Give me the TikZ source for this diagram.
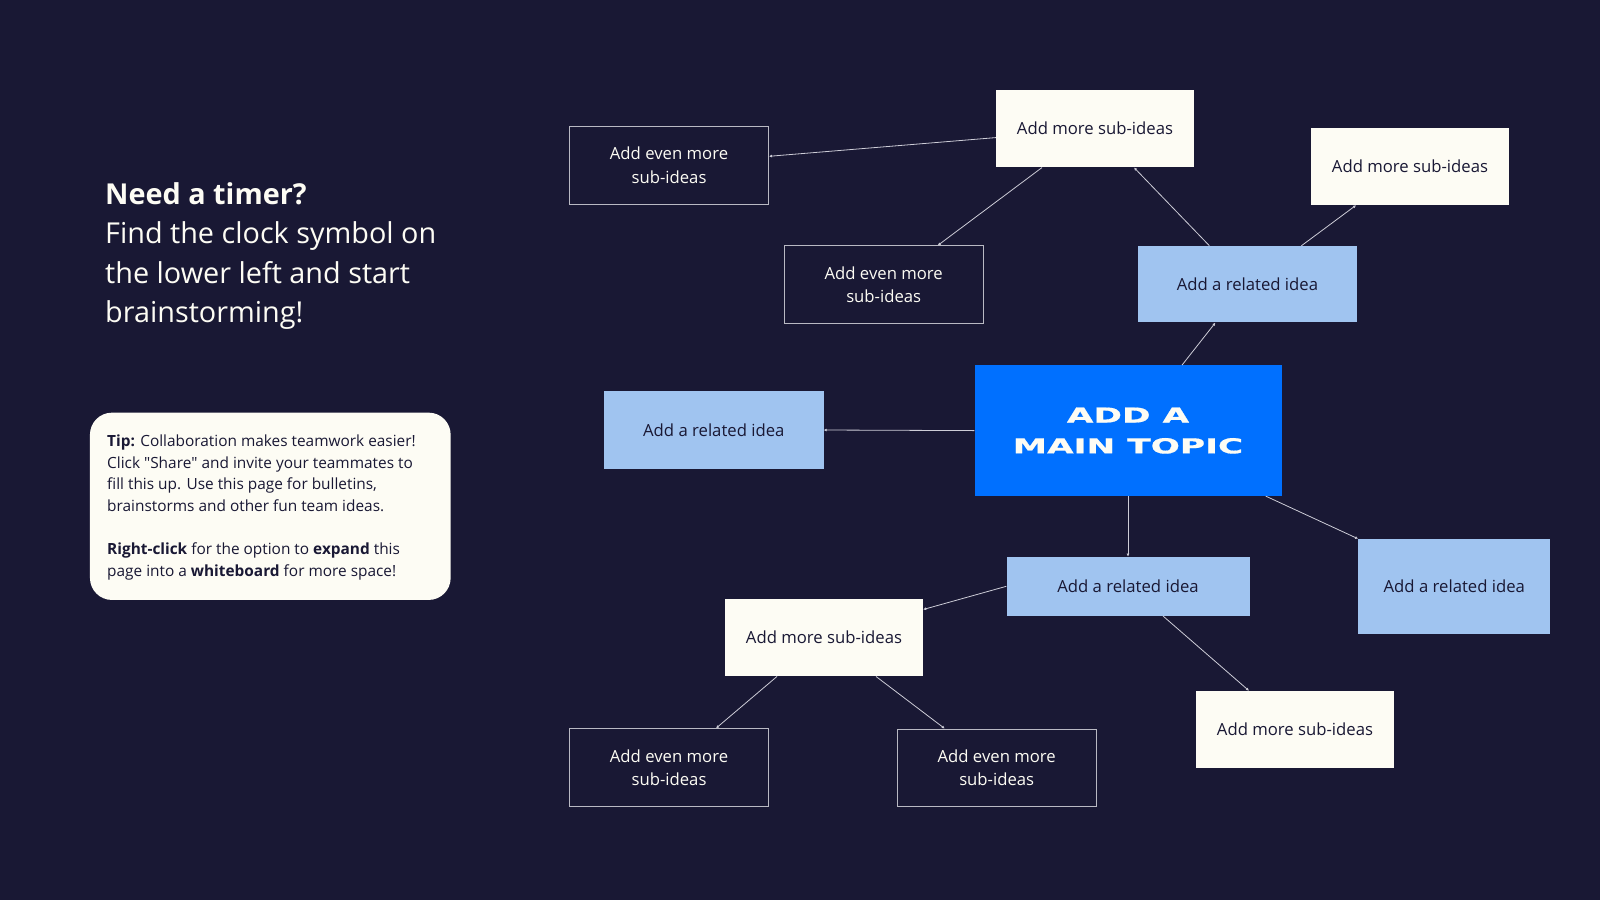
\documentclass[tikz,border=0pt]{standalone}
\usepackage{fontspec}
\setmainfont{Open Sans}
\newfontfamily\topicfont[FakeStretch=1.67,FakeBold=0.8]{DejaVu Sans}
\usetikzlibrary{arrows.meta}

\definecolor{nightbg}{RGB}{25,24,52}
\definecolor{topicblue}{RGB}{0,112,255}
\definecolor{relatedblue}{RGB}{160,196,240}
\definecolor{subcream}{RGB}{253,252,244}
\definecolor{linkgray}{RGB}{205,205,215}
\definecolor{framegray}{RGB}{185,185,195}

\begin{document}
\begin{tikzpicture}
[x=1pt,y=-1pt,%
  boxdecorate/.style={shape=rectangle,inner sep=0pt,align=center,%
    font=\fontsize{16.7}{23.5}\selectfont},%
  topicdecorate/.style={boxdecorate,fill=topicblue,text=subcream,%
    minimum width=307pt,minimum height=130.6pt,%
    font=\topicfont\bfseries\fontsize{20.6}{30.8}\selectfont},%
  relateddecorate/.style={boxdecorate,fill=relatedblue,text=nightbg},%
  subdecorate/.style={boxdecorate,fill=subcream,text=nightbg,%
    minimum width=198pt,minimum height=77.5pt},%
  evendecorate/.style={boxdecorate,draw=framegray,line width=1pt,text=subcream,%
    minimum width=199pt,minimum height=77.5pt},%
  linkdecorate/.style={draw=linkgray,line width=0.8pt,%
    -{Latex[length=3pt,width=3pt]}}]
%% background
\fill[nightbg] (0,0) rectangle (1600,900);
%% left texts
\node (timerhead) at (105,182) [anchor=north west,inner sep=0pt,align=left,%
  text=subcream,font=\fontsize{28.8}{39.5}\selectfont]
  {\textbf{Need a timer?}\\Find the clock symbol on\\the lower left and start\\brainstorming!};
\node (tipbox) at (270.3,506.3) [fill=subcream,rounded corners=22pt,%
  minimum width=360.7pt,minimum height=187.3pt] {};
\node (tiptext) at (107,434.5) [anchor=north west,inner sep=0pt,align=left,%
  text=nightbg,font=\fontsize{15.4}{21.6}\selectfont]
  {\textbf{Tip:} Collaboration makes teamwork easier!\\
   Click \textquotedbl Share\textquotedbl{} and invite your teammates to\\
   fill this up. Use this page for bulletins,\\
   brainstorms and other fun team ideas.\\[21.6pt]
   \textbf{Right-click} for the option to \textbf{expand} this\\
   page into a \textbf{whiteboard} for more space!};
%% main topic and related ideas
\node (topic) at (1128,430.6) [topicdecorate] {ADD A\\MAIN TOPIC};
\foreach \nodename/\x/\y/\w/\h in {R1/713.8/430/219.4/78.6,
  R2/1247.4/284.2/219.4/76.5, R3/1128/586.3/243/59, R4/1454.3/586.5/192/95}
{
  \node (\nodename) at (\x,\y) [relateddecorate,minimum width=\w pt,%
    minimum height=\h pt] {Add a related idea};
}
%% sub-ideas
\foreach \nodename/\x/\y in {S1/1095/128.6, S2/1410/166.3,
  S3/824/637.5, S4/1295/729.7}
{
  \node (\nodename) at (\x,\y) [subdecorate] {Add more sub-ideas};
}
\foreach \nodename/\x/\y in {E1/669/165.3, E2/883.7/284.7,
  E3/669/767.5, E4/996.7/767.8}
{
  \node (\nodename) at (\x,\y) [evendecorate] {Add even more\\sub-ideas};
}
%% edges or lines
\foreach \startnode/\sdx/\sdy/\endnode/\edx/\edy in {S1.west/0/-9/E1.east/0/9,
  S1.south/-53/0/E2.north/54/0, R2.north/-38/0/S1.south/39/0,
  R2.north/54/0/S2.south/-54/0, topic.north/54/0/R2.south/-32/0,
  topic.west/0/0/R1.east/0/0, topic.south/0/0/R3.north/0/0,
  topic.south east/-16/0/R4.north west/0/0, R3.west/0/0/S3.east/0/28,
  R3.south/35/0/S4.north/-46/0, S3.south/-47/0/E3.north/47/0,
  S3.south/52/0/E4.north/-52/0}
{
  \draw[linkdecorate] ([xshift=\sdx pt,yshift=\sdy pt]\startnode)
    -- ([xshift=\edx pt,yshift=\edy pt]\endnode);
}
\end{tikzpicture}
\end{document}
